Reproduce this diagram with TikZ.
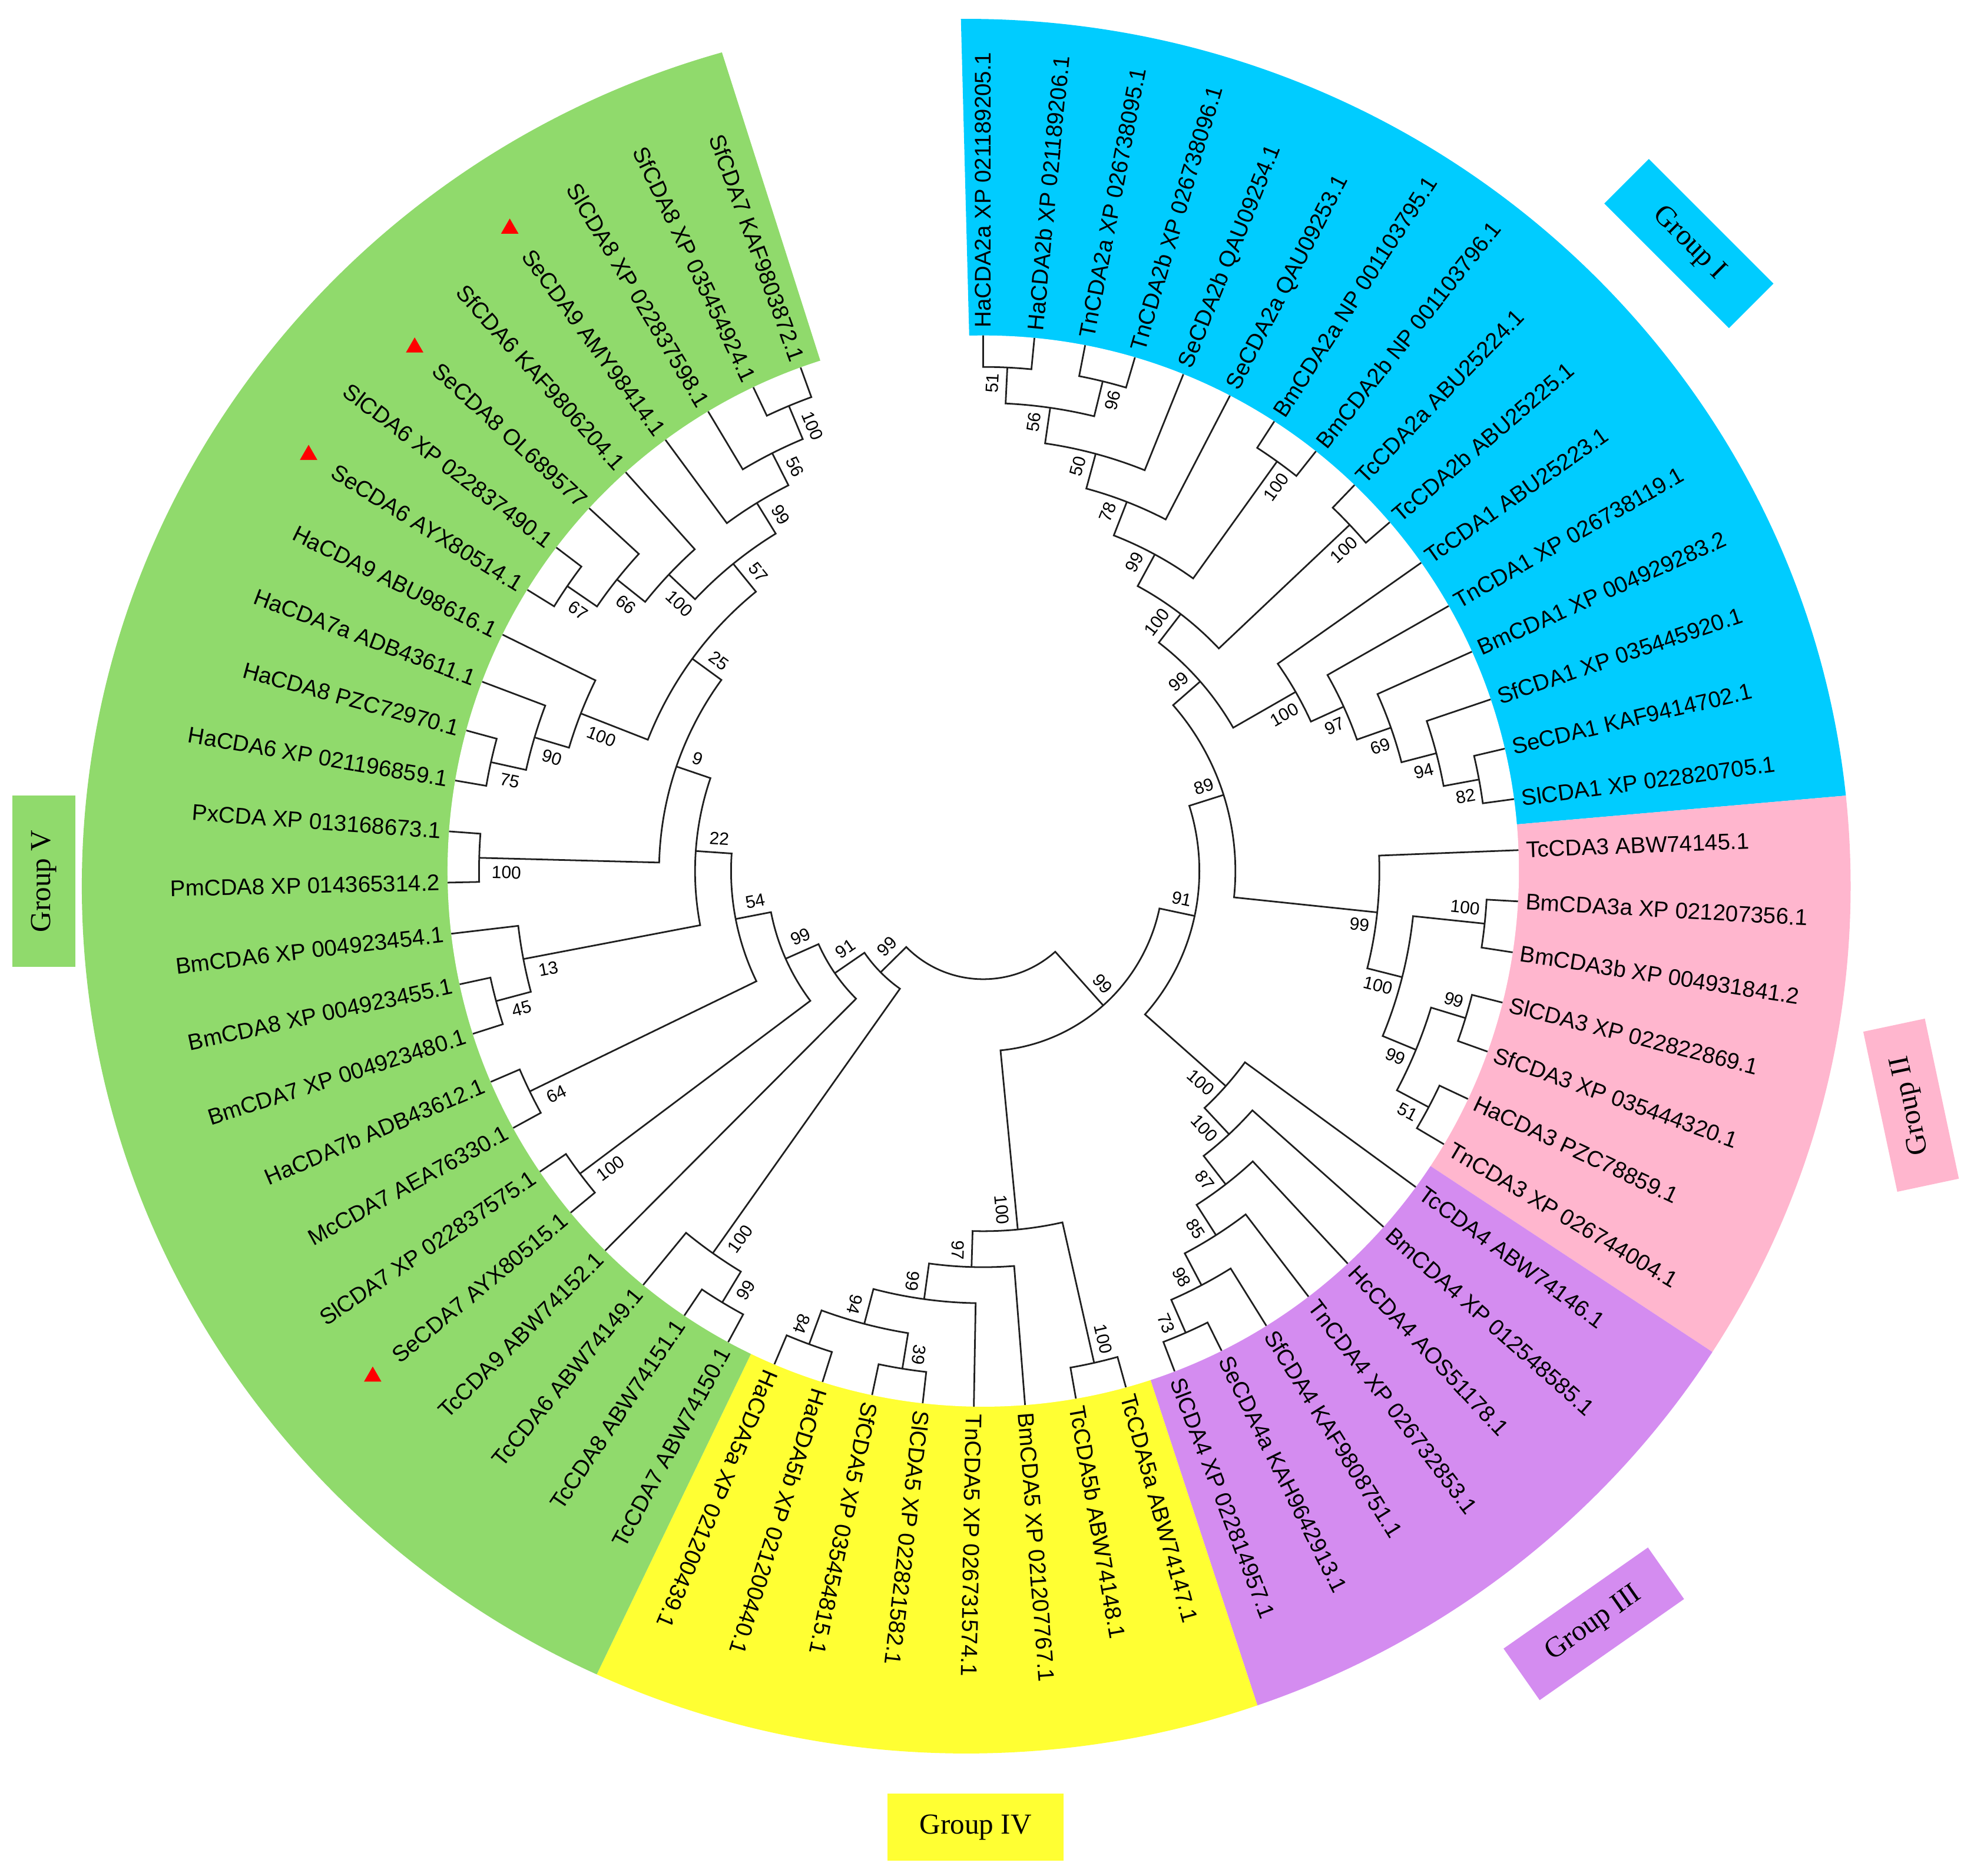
\documentclass[tikz,border=0pt]{standalone}
\usepackage{fontspec}
\setmainfont{Liberation Sans}
\newfontfamily\grpfont{Liberation Serif}
\usetikzlibrary{calc,shapes.geometric}
\definecolor{cI}{RGB}{0,204,255}
\definecolor{cII}{RGB}{255,182,206}
\definecolor{cIII}{RGB}{212,140,240}
\definecolor{cIV}{RGB}{255,255,51}
\definecolor{cV}{RGB}{144,218,108}
\newcommand\tclade[7]{%
  \pgfmathsetmacro\trr{400.5-(#3-1)*28.6}%
  \coordinate (#1) at (#2:\trr);%
  \draw[tree] (#4) -- (#5:\trr) arc[start angle=#5, end angle=#7, radius=\trr] -- (#6);%
}
\newcommand\bsout[5]{%
  \pgfmathsetmacro\trr{400.5-(#4-1)*28.6-5}%
  \ifnum#5=1
    \node[bsl, rotate=#3, anchor=south east] (#1) at ($(#3:\trr)+(#3+90:6)$) {#2};%
  \else
    \node[bsl, rotate=#3, anchor=north east] (#1) at ($(#3:\trr)+(#3-90:6)$) {#2};%
  \fi}
\newcommand\bsin[5]{%
  \pgfmathsetmacro\trr{400.5-(#4-1)*28.6-10}%
  \ifnum#5=1
    \node[bsl, rotate=#3+180, anchor=north west] (#1) at ($(#3:\trr)+(#3+90:6)$) {#2};%
  \else
    \node[bsl, rotate=#3+180, anchor=south west] (#1) at ($(#3:\trr)+(#3-90:6)$) {#2};%
  \fi}
\begin{document}
\begin{tikzpicture}[x=1pt,y=1pt,
  tree/.style={line width=1.3pt, black!88, line join=miter},
  leaf/.style={font=\fontsize{18}{18}\selectfont, inner sep=0pt},
  bsl/.style={font=\fontsize{14}{14}\selectfont, inner sep=0pt},
  tri/.style={regular polygon, regular polygon sides=3, fill=red, draw=none, minimum size=16pt, inner sep=0pt},
  grp/.style={font=\grpfont\fontsize{23}{23}\selectfont, inner sep=0pt, minimum height=50pt, minimum width=140pt}]
\useasboundingbox (-781,-798) rectangle (787,692);
% coloured sectors
\begin{scope}
  \clip (0,0) -- (91.5:1500) -- (48.25:1500) -- (5:1500) -- cycle;
  \fill[cI] (-13.5,-12) ellipse [x radius=702.5, y radius=689];
\end{scope}
\begin{scope}
  \clip (0,0) -- (5:1500) -- (-14.2:1500) -- (-33.41:1500) -- cycle;
  \fill[cII] (-13.5,-12) ellipse [x radius=702.5, y radius=689];
\end{scope}
\begin{scope}
  \clip (0,0) -- (-33.41:1500) -- (-52.6:1500) -- (-71.81:1500) -- cycle;
  \fill[cIII] (-13.5,-12) ellipse [x radius=702.5, y radius=689];
\end{scope}
\begin{scope}
  \clip (0,0) -- (-71.81:1500) -- (-93.75:1500) -- (-115.69:1500) -- cycle;
  \fill[cIV] (-13.5,-12) ellipse [x radius=702.5, y radius=689];
\end{scope}
\begin{scope}
  \clip (0,0) -- (-115.69:1500) -- (-149.84:1500) -- (-184:1500) -- (-218.15:1500) -- (-252.3:1500) -- cycle;
  \fill[cV] (-13.5,-12) ellipse [x radius=702.5, y radius=689];
\end{scope}
\fill[white] (0,0) circle [radius=425.5];
% leaves
\foreach \t [count=\i] in {HaCDA2a XP 021189205.1,HaCDA2b XP 021189206.1,TnCDA2a XP 026738095.1,TnCDA2b XP 026738096.1,SeCDA2b QAU09254.1,SeCDA2a QAU09253.1,BmCDA2a NP 001103795.1,BmCDA2b NP 001103796.1,TcCDA2a ABU25224.1,TcCDA2b ABU25225.1,TcCDA1 ABU25223.1,TnCDA1 XP 026738119.1,BmCDA1 XP 004929283.2,SfCDA1 XP 035445920.1,SeCDA1 KAF9414702.1,SlCDA1 XP 022820705.1,TcCDA3 ABW74145.1,BmCDA3a XP 021207356.1,BmCDA3b XP 004931841.2,SlCDA3 XP 022822869.1,SfCDA3 XP 035444320.1,HaCDA3 PZC78859.1,TnCDA3 XP 026744004.1,TcCDA4 ABW74146.1,BmCDA4 XP 012548585.1,HcCDA4 AOS51178.1,TnCDA4 XP 026732853.1,SfCDA4 KAF9808751.1,SeCDA4a KAH9642913.1,SlCDA4 XP 022814957.1,TcCDA5a ABW74147.1,TcCDA5b ABW74148.1,BmCDA5 XP 021207767.1,TnCDA5 XP 026731574.1,SlCDA5 XP 022821582.1,SfCDA5 XP 035454815.1,HaCDA5b XP 021200440.1,HaCDA5a XP 021200439.1,TcCDA7 ABW74150.1,TcCDA8 ABW74151.1,TcCDA6 ABW74149.1,TcCDA9 ABW74152.1,SeCDA7 AYX80515.1,SlCDA7 XP 022837575.1,McCDA7 AEA76330.1,HaCDA7b ADB43612.1,BmCDA7 XP 004923480.1,BmCDA8 XP 004923455.1,BmCDA6 XP 004923454.1,PmCDA8 XP 014365314.2,PxCDA XP 013168673.1,HaCDA6 XP 021196859.1,HaCDA8 PZC72970.1,HaCDA7a ADB43611.1,HaCDA9 ABU98616.1,SeCDA6 AYX80514.1,SlCDA6 XP 022837490.1,SeCDA8 OL689577,SfCDA6 KAF9806204.1,SeCDA9 AMY98414.1,SlCDA8 XP 022837598.1,SfCDA8 XP 035454924.1,SfCDA7 KAF9803872.1}{
  \pgfmathsetmacro\la{90-(\i-1)*5.485}
  \coordinate (L\i) at (\la:425.5);
  \ifnum\i<39
    \node[leaf, rotate=\la, anchor=west] (T\i) at (\la:431.5) {\t};
  \else
    \node[leaf, rotate=\la+180, anchor=east] (T\i) at (\la:431.5) {\t};
  \fi
}
% Group I
\tclade{n51}{87.2575}{1}{L1}{90}{L2}{84.515}
\tclade{n96}{76.2875}{1}{L3}{79.03}{L4}{73.545}
\tclade{n56}{81.7725}{2}{n51}{87.2575}{n96}{76.2875}
\tclade{n50}{74.91625}{3}{n56}{81.7725}{L5}{68.06}
\tclade{n78}{68.745625}{4}{n50}{74.91625}{L6}{62.575}
\tclade{n100b}{54.3475}{1}{L7}{57.09}{L8}{51.605}
\tclade{n99a}{61.5466}{5}{n78}{68.745625}{n100b}{54.3475}
\tclade{n100d}{43.3775}{1}{L9}{46.12}{L10}{40.635}
\tclade{n100c}{52.462}{6}{n99a}{61.5466}{n100d}{43.3775}
\tclade{n82}{10.4675}{1}{L15}{13.21}{L16}{7.725}
\tclade{n94}{14.58125}{2}{L14}{18.695}{n82}{10.4675}
\tclade{n69}{19.3806}{3}{L13}{24.18}{n94}{14.58125}
\tclade{n97}{24.5228}{4}{L12}{29.665}{n69}{19.3806}
\tclade{n100k}{29.8364}{5}{L11}{35.15}{n97}{24.5228}
\tclade{n99b}{41.1492}{7}{n100c}{52.462}{n100k}{29.8364}
% Group II
\tclade{n100i}{-5.9875}{1}{L18}{-3.245}{L19}{-8.73}
\tclade{n99f}{-16.9575}{1}{L20}{-14.215}{L21}{-19.7}
\tclade{n51c}{-27.9275}{1}{L22}{-25.185}{L23}{-30.67}
\tclade{n99e}{-22.4425}{2}{n99f}{-16.9575}{n51c}{-27.9275}
\tclade{n100h}{-14.215}{3}{n100i}{-5.9875}{n99e}{-22.4425}
\tclade{n99d}{-5.9875}{4}{L17}{2.24}{n100h}{-14.215}
\tclade{n89}{17.5809}{8}{n99b}{41.1492}{n99d}{-5.9875}
% Group III
\tclade{n73}{-66.3225}{1}{L29}{-63.58}{L30}{-69.065}
\tclade{n98}{-62.20875}{2}{L28}{-58.095}{n73}{-66.3225}
\tclade{n85}{-57.4094}{3}{L27}{-52.61}{n98}{-62.20875}
\tclade{n87}{-52.2672}{4}{L26}{-47.125}{n85}{-57.4094}
\tclade{n100j}{-46.9536}{5}{L25}{-41.64}{n87}{-52.2672}
\tclade{n100g}{-41.5543}{6}{L24}{-36.155}{n100j}{-46.9536}
\tclade{n91}{-11.9867}{9}{n89}{17.5809}{n100g}{-41.5543}
% Group IV
\tclade{n100t}{-77.2925}{1}{L31}{-74.55}{L32}{-80.035}
\tclade{n39}{-99.2325}{1}{L35}{-96.49}{L36}{-101.975}
\tclade{n84}{-110.2025}{1}{L37}{-107.46}{L38}{-112.945}
\tclade{n94b}{-104.7175}{2}{n39}{-99.2325}{n84}{-110.2025}
\tclade{n99g}{-97.86125}{3}{L34}{-91.005}{n94b}{-104.7175}
\tclade{n97b}{-91.6906}{4}{L33}{-85.52}{n99g}{-97.86125}
\tclade{n100m}{-84.4916}{5}{n100t}{-77.2925}{n97b}{-91.6906}
\tclade{n99R}{-48.2391}{10}{n91}{-11.9867}{n100m}{-84.4916}
% Group V
\tclade{n99h}{-121.1725}{1}{L39}{-118.43}{L40}{-123.915}
\tclade{n100n}{-125.28625}{2}{n99h}{-121.1725}{L41}{-129.4}
\tclade{n100s}{-143.1125}{1}{L43}{-140.37}{L44}{-145.855}
\tclade{n64}{-154.0825}{1}{L45}{-151.34}{L46}{-156.825}
\tclade{n45}{-165.0525}{1}{L47}{-162.31}{L48}{-167.795}
\tclade{n13}{-169.16625}{2}{n45}{-165.0525}{L49}{-173.28}
\tclade{n100p}{-181.5075}{1}{L50}{-178.765}{L51}{-184.25}
\tclade{n75}{-192.4775}{1}{L52}{-189.735}{L53}{-195.22}
\tclade{n90}{-196.59125}{2}{n75}{-192.4775}{L54}{-200.705}
\tclade{n100q}{-201.3906}{3}{n90}{-196.59125}{L55}{-206.19}
\tclade{n67}{-214.4175}{1}{L56}{-211.675}{L57}{-217.16}
\tclade{n66}{-218.53125}{2}{n67}{-214.4175}{L58}{-222.645}
\tclade{n100f}{-223.3306}{3}{n66}{-218.53125}{L59}{-228.13}
\tclade{n100e}{-247.3275}{1}{L62}{-244.585}{L63}{-250.07}
\tclade{n56b}{-243.21375}{2}{L61}{-239.1}{n100e}{-247.3275}
\tclade{n99c}{-238.4144}{3}{L60}{-233.615}{n56b}{-243.21375}
\tclade{n57}{-230.8725}{4}{n100f}{-223.3306}{n99c}{-238.4144}
\tclade{n25}{-216.1316}{5}{n100q}{-201.3906}{n57}{-230.8725}
\tclade{n9}{-198.8195}{6}{n100p}{-181.5075}{n25}{-216.1316}
\tclade{n22}{-183.9929}{7}{n13}{-169.16625}{n9}{-198.8195}
\tclade{n54}{-169.0377}{8}{n64}{-154.0825}{n22}{-183.9929}
\tclade{n99i}{-156.0751}{9}{n100s}{-143.1125}{n54}{-169.0377}
\tclade{n91L}{-145.4801}{10}{L42}{-134.885}{n99i}{-156.0751}
\tclade{n99L}{-135.3832}{11}{n100n}{-125.28625}{n91L}{-145.4801}
\tclade{root}{-91.8112}{12}{n99R}{-48.2391}{n99L}{-135.3832}
% bootstrap values
\bsout{b1}{51}{87.2575}{1}{1}
\bsout{b2}{96}{76.2875}{1}{0}
\bsout{b3}{56}{81.7725}{2}{1}
\bsout{b4}{50}{74.91625}{3}{1}
\bsout{b5}{78}{68.745625}{4}{1}
\bsout{b6}{100}{54.3475}{1}{0}
\bsout{b7}{99}{61.5466}{5}{1}
\bsout{b8}{100}{43.3775}{1}{0}
\bsout{b9}{100}{52.462}{6}{1}
\bsout{b10}{82}{10.4675}{1}{0}
\bsout{b11}{94}{14.58125}{2}{0}
\bsout{b12}{69}{19.3806}{3}{0}
\bsout{b13}{97}{24.5228}{4}{0}
\bsout{b14}{100}{29.8364}{5}{0}
\bsout{b15}{99}{41.1492}{7}{1}
\bsout{b16}{100}{-5.9875}{1}{1}
\bsout{b17}{99}{-16.9575}{1}{1}
\bsout{b18}{51}{-27.9275}{1}{0}
\bsout{b19}{99}{-22.4425}{2}{0}
\bsout{b20}{100}{-14.215}{3}{0}
\bsout{b21}{99}{-5.9875}{4}{0}
\bsout{b22}{89}{17.5809}{8}{1}
\bsout{b23}{73}{-66.3225}{1}{0}
\bsout{b24}{98}{-62.20875}{2}{0}
\bsout{b25}{85}{-57.4094}{3}{0}
\bsout{b26}{87}{-52.2672}{4}{0}
\bsout{b27}{100}{-46.9536}{5}{0}
\bsout{b28}{100}{-41.5543}{6}{0}
\bsout{b29}{91}{-11.9867}{9}{1}
\bsout{b30}{100}{-77.2925}{1}{1}
\bsout{b31}{39}{-99.2325}{1}{1}
\bsout{b32}{84}{-110.2025}{1}{0}
\bsout{b33}{94}{-104.7175}{2}{0}
\bsout{b34}{99}{-97.86125}{3}{0}
\bsout{b35}{97}{-91.6906}{4}{0}
\bsout{b36}{100}{-84.4916}{5}{0}
\bsout{b37}{99}{-48.2391}{10}{1}
\bsin{b38}{99}{-121.1725}{1}{1}
\bsin{b39}{100}{-125.28625}{2}{1}
\bsin{b40}{100}{-143.1125}{1}{1}
\bsin{b41}{64}{-154.0825}{1}{1}
\bsin{b42}{45}{-165.0525}{1}{1}
\bsin{b43}{13}{-169.16625}{2}{1}
\bsin{b44}{100}{-181.5075}{1}{1}
\bsin{b45}{75}{-192.4775}{1}{1}
\bsin{b46}{90}{-196.59125}{2}{1}
\bsin{b47}{100}{-201.3906}{3}{1}
\bsin{b48}{67}{-214.4175}{1}{1}
\bsin{b49}{66}{-218.53125}{2}{1}
\bsin{b50}{100}{-223.3306}{3}{1}
\bsin{b51}{100}{-247.3275}{1}{0}
\bsin{b52}{56}{-243.21375}{2}{0}
\bsin{b53}{99}{-238.4144}{3}{0}
\bsin{b54}{57}{-230.8725}{4}{0}
\bsin{b55}{25}{-216.1316}{5}{0}
\bsin{b56}{9}{-198.8195}{6}{0}
\bsin{b57}{22}{-183.9929}{7}{0}
\bsin{b58}{54}{-169.0377}{8}{0}
\bsin{b59}{99}{-156.0751}{9}{0}
\bsin{b60}{91}{-145.4801}{10}{0}
\bsin{b61}{99}{-135.3832}{11}{0}
% red markers
\node[tri] (tri43) at ($(T43.west)+(-140.37:23)$) {};
\node[tri] (tri56) at ($(T56.west)+(-211.675:23)$) {};
\node[tri] (tri58) at ($(T58.west)+(-222.645:23)$) {};
\node[tri] (tri60) at ($(T60.west)+(-233.615:23)$) {};
% group boxes
\node[grp, fill=cI, rotate=-45] (gI) at (560.5,498.5) {Group I};
\node[grp, fill=cII, rotate=102, minimum width=130pt] (gII) at (737,-186) {Group II};
\node[grp, fill=cIII, rotate=35] (gIII) at (485,-598) {Group III};
\node[grp, fill=cIV, minimum height=53pt] (gIV) at (-6,-759.5) {Group IV};
\node[grp, fill=cV, rotate=90, minimum width=136pt] (gV) at (-746,-8) {Group V};
\end{tikzpicture}
\end{document}
